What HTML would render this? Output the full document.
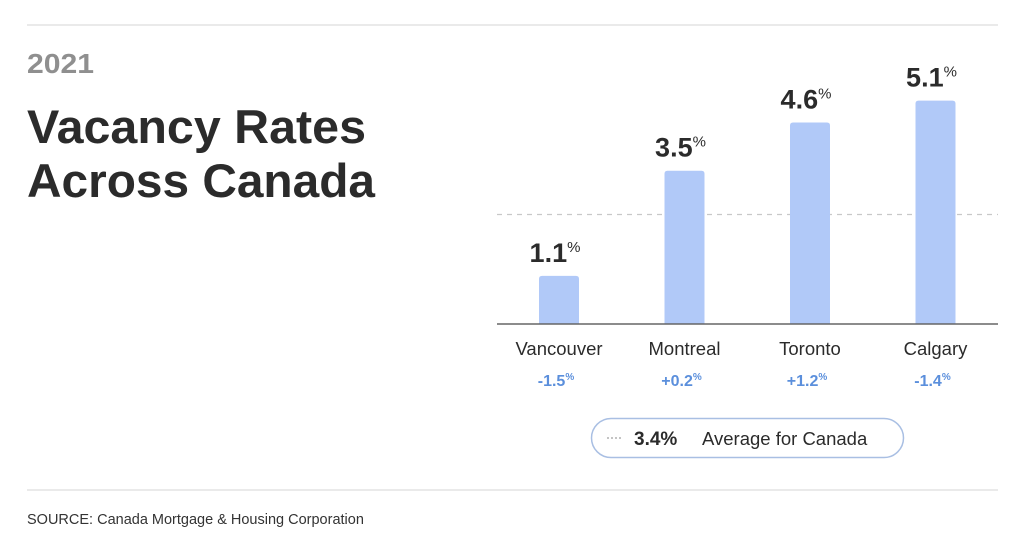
<!DOCTYPE html>
<html><head><meta charset="utf-8"><style>
html,body{margin:0;padding:0;background:#fff}
svg{display:block;font-family:"Liberation Sans",sans-serif}
</style></head><body>
<svg id="chart" width="1024" height="543" viewBox="0 0 1024 543">
<rect width="1024" height="543" fill="#fff"/>
<line x1="27" y1="25" x2="998" y2="25" stroke="#e3e3e3" stroke-width="1.5"/>
<line x1="27" y1="490" x2="998" y2="490" stroke="#e3e3e3" stroke-width="1.5"/>
<text x="27" y="73" font-size="28" font-weight="bold" fill="#8f8f8f" textLength="67" lengthAdjust="spacingAndGlyphs">2021</text>
<text x="27" y="143" font-size="47" font-weight="bold" fill="#2b2b2b" textLength="339" lengthAdjust="spacingAndGlyphs">Vacancy Rates</text>
<text x="27" y="197" font-size="47" font-weight="bold" fill="#2b2b2b" textLength="348" lengthAdjust="spacingAndGlyphs">Across Canada</text>
<text x="27" y="524" font-size="14.5" fill="#333">SOURCE: Canada Mortgage &amp; Housing Corporation</text>
<g id="plot"></g>
<g>
<rect x="591.5" y="418.5" width="312" height="39" rx="19.5" fill="#fff" stroke="#a9bfe3" stroke-width="1.5"/>
<line x1="607" y1="438" x2="623" y2="438" stroke="#888" stroke-width="1" stroke-dasharray="2,2"/>
<text x="634" y="445" font-size="19" font-weight="bold" fill="#2b2b2b">3.4%</text>
<text x="702" y="445" font-size="18.5" fill="#2b2b2b">Average for Canada</text>
</g>
</svg>
<script>
const cities = ["Vancouver","Montreal","Toronto","Calgary"];
const rates = [1.1, 3.5, 4.6, 5.1];
const changes = ["-1.5","+0.2","+1.2","-1.4"];
const refLevel = [2.5];

const NS="http://www.w3.org/2000/svg";
const g=document.getElementById('plot');
const baseY=324, pxPerUnit=43.8, x0=497, step=125.5, barW=40;
const y=v=>baseY-v*pxPerUnit;
const xc=i=>x0+62+i*step;
function mk(t,a){const e=document.createElementNS(NS,t);for(const k in a)e.setAttribute(k,a[k]);g.appendChild(e);return e;}
let dl=mk('line',{x1:497,x2:998,y1:y(refLevel[0]),y2:y(refLevel[0]),stroke:'#c8c8c8','stroke-width':1.2,'stroke-dasharray':'5,5'});


cities.forEach((c,i)=>{
  const cx=xc(i), top=y(rates[i]);
  const b=mk('path',{d:`M${cx-barW/2},${baseY} V${top+3} Q${cx-barW/2},${top} ${cx-barW/2+3},${top} H${cx+barW/2-3} Q${cx+barW/2},${top} ${cx+barW/2},${top+3} V${baseY} Z`,fill:'#b1c9f8'});
  
  
  const v=mk('text',{x:cx-4,y:top-14,'text-anchor':'middle','font-size':27,'font-weight':'bold',fill:'#2b2b2b'});
  
  
  v.textContent=rates[i].toFixed(1);
  const p=document.createElementNS(NS,'tspan');p.setAttribute('font-size','15');p.setAttribute('font-weight','normal');p.setAttribute('dy','-10');p.textContent='%';v.appendChild(p);
  const cl=mk('text',{x:cx,y:355,'text-anchor':'middle','font-size':18.5,fill:'#2b2b2b'});
  
  
  cl.textContent=c;
  const ch=mk('text',{x:cx-3,y:386,'text-anchor':'middle','font-size':16,'font-weight':'bold',fill:'#5b8fdc'});
  
  
  ch.textContent=changes[i];
  const p2=document.createElementNS(NS,'tspan');p2.setAttribute('font-size','10');p2.setAttribute('dy','-6');p2.textContent='%';ch.appendChild(p2);
});
let ax=mk('line',{x1:497,x2:998,y1:baseY,y2:baseY,stroke:'#666','stroke-width':1.5});


</script>
</body></html>
